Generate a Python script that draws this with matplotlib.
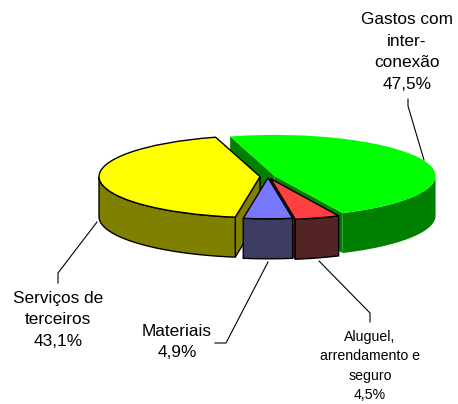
import numpy as np
import matplotlib
matplotlib.use("Agg")
import matplotlib.pyplot as plt

categories = ["Gastos com\ninter-\nconexão", "Serviços de\nterceiros", "Materiais", "Aluguel,\narrendamento e\nseguro"]
values = [47.5, 43.1, 4.9, 4.5]
value_labels = ["47,5%", "43,1%", "4,9%", "4,5%"]
top_colors = ["#00FF00", "#FFFF00", "#7878FF", "#FF4040"]
side_colors = ["#008000", "#808000", "#3C3C64", "#522424"]
explode = [7, 8, 5, 9]
edge_colors = ["none", "black", "black", "black"]
wedge_order = [1, 2, 4, 3]

plt.rcParams["font.family"] = ["Liberation Sans", "DejaVu Sans"]
W, H = 458, 404
SQUASH = 161 / 41      # data units of y per pixel, so the circle appears tilted
DEPTH = 40 * SQUASH

fig = plt.figure(figsize=(W / 100, H / 100), dpi=100)
ax = fig.add_axes([0, 0, 1, 1])
wedges, _ = ax.pie(values, explode=explode, colors=top_colors, startangle=295,
                   radius=161, center=(268, (H - 176.5) * SQUASH),
                   wedgeprops=dict(linewidth=1.0, edgecolor="black"))
ax.set_aspect("auto")
ax.set_xlim(0, W)
ax.set_ylim(0, H * SQUASH)
ax.axis("off")


def draw_sides(w, color, edge, z):
    cx, cy = w.center
    r = w.r
    t1, t2 = w.theta1 % 360, w.theta1 % 360 + (w.theta2 - w.theta1)
    kw = dict(facecolor=color, edgecolor=edge, linewidth=1.0 if edge != "none" else 0, zorder=z)
    # flat cut faces that look towards the viewer
    for ang, normal in ((t1, t1 - 90), (t2, t2 + 90)):
        if np.sin(np.radians(normal)) < 0:
            px = cx + r * np.cos(np.radians(ang))
            py = cy + r * np.sin(np.radians(ang))
            ax.fill([cx, px, px, cx], [cy, py, py - DEPTH, cy - DEPTH], **kw)
    # curved outer face (lower half of the ellipse only)
    for shift in (0, 360):
        a = max(t1, 180 + shift)
        b = min(t2, 360 + shift)
        if b > a:
            th = np.radians(np.linspace(a, b, 80))
            xs = cx + r * np.cos(th)
            ys = cy + r * np.sin(th)
            ax.fill(np.r_[xs, xs[::-1]], np.r_[ys, ys[::-1] - DEPTH], **kw)


for w, col, ec, z in zip(wedges, side_colors, edge_colors, wedge_order):
    draw_sides(w, col, ec, z * 2)
for w, ec, z in zip(wedges, edge_colors, wedge_order):
    w.set_edgecolor(ec)
    w.set_zorder(z * 2 + 1)

# overlay in pixel coordinates for labels and leader lines
ov = fig.add_axes([0, 0, 1, 1])
ov.set_xlim(0, W)
ov.set_ylim(H, 0)
ov.axis("off")
ov.patch.set_alpha(0)

leader_x = [[424, 408, 408], [97, 58, 58], [268, 226, 215], [319, 370, 370]]
leader_y = [[160, 106, 99], [222, 273, 283], [262, 343, 343], [261, 313, 322]]
for lx, ly in zip(leader_x, leader_y):
    ov.plot(lx, ly, color="black", lw=0.8)

label_x = [407, 58, 177, 370]
label_y = [52, 320, 342, 366]
sizes = [12.4, 12.4, 12.4, 10.2]
spacing = [1.56, 1.56, 1.56, 1.49]
for cat, val, x, y, fs, ls in zip(categories, value_labels, label_x, label_y, sizes, spacing):
    ov.text(x, y, f"{cat}\n{val}", ha="center", va="center", fontsize=fs, linespacing=ls)

fig.savefig("out.png", dpi=100, facecolor="white")
